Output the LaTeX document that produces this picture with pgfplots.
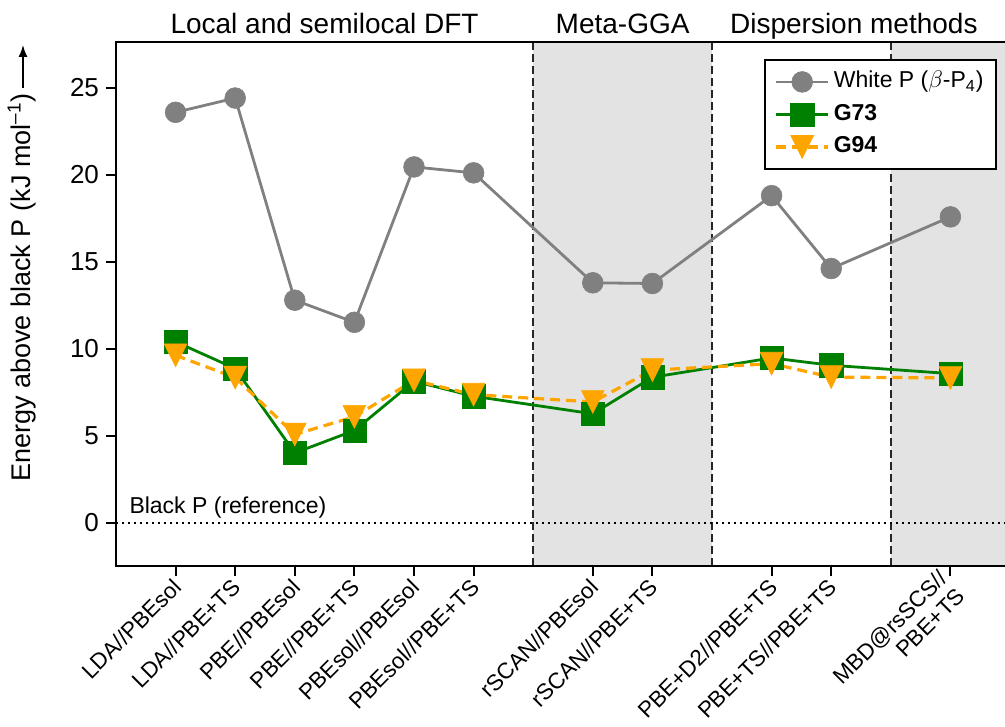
\documentclass[border=0pt]{standalone}
\usepackage{fontspec}
\setmainfont{Liberation Sans}
\usepackage{pgfplots}
\usepackage{pgfplotstable}
\pgfplotsset{compat=1.18}
\usetikzlibrary{arrows.meta}
\definecolor{wgray}{HTML}{808080}
\definecolor{gseven}{HTML}{008000}
\definecolor{gnine}{HTML}{FFA500}
\definecolor{bandgray}{HTML}{E3E3E3}
\pgfdeclareplotmark{tridown}{%
  \pgfpathmoveto{\pgfqpoint{-\pgfplotmarksize}{\pgfplotmarksize}}%
  \pgfpathlineto{\pgfqpoint{\pgfplotmarksize}{\pgfplotmarksize}}%
  \pgfpathlineto{\pgfqpoint{0pt}{-\pgfplotmarksize}}%
  \pgfpathclose
  \pgfusepathqfillstroke}

\pgfplotstableread{
x y
0 23.58
1 24.40
2 12.78
3 11.51
4 20.44
5 20.10
7 13.78
8 13.74
10 18.79
11 14.60
13 17.57
}\whiteP
\pgfplotstableread{
x y
0 10.39
1 8.85
2 4.00
3 5.29
4 8.12
5 7.26
7 6.25
8 8.35
10 9.46
11 9.04
13 8.56
}\gsevenT
\pgfplotstableread{
x y
0 9.61
1 8.33
2 5.06
3 6.08
4 8.17
5 7.35
7 6.93
8 8.76
10 9.13
11 8.36
13 8.31
}\gnineF

\begin{document}
\begin{tikzpicture}
\begin{axis}[
  at={(0,0)}, anchor=south west,
  scale only axis, width=447pt, height=261.8pt,
  xmin=-1, xmax=14, ymin=-2.5, ymax=27.6,
  clip=false, axis on top,
  xtick={0,1,2,3,4,5,7,8,10,11,13},
  xticklabels={LDA//PBEsol, LDA//PBE+TS, PBE//PBEsol, PBE//PBE+TS, PBEsol//PBEsol, PBEsol//PBE+TS, rSCAN//PBEsol, rSCAN//PBE+TS, PBE+D2//PBE+TS, PBE+TS//PBE+TS, {MBD@rsSCS//\\PBE+TS}},
  ytick={0,5,10,15,20,25},
  tick align=outside, tick pos=left,
  major tick length=5pt,
  every tick/.style={black, line width=1pt},
  axis line style={line width=1pt},
  /pgf/number format/assume math mode=true,
  xticklabel style={rotate=45, anchor=east, align=right, font=\fontsize{11.2}{12.5}\selectfont, xshift=1.5pt, yshift=-3pt},
  yticklabel style={font=\fontsize{13}{15}\selectfont},
  legend style={at={(axis cs:13.775,26.65)}, anchor=north east, draw=black, line width=1pt,
    font=\fontsize{11.5}{13}\selectfont, inner xsep=5pt, inner ysep=4.5pt,
    nodes={inner sep=1pt, text height=8.5pt, text depth=2.5pt}, row sep=3.25pt,
    /tikz/every odd column/.append style={column sep=1pt}},
  legend cell align=left,
  legend image code/.code={\draw[mark repeat=2,mark phase=2,#1] plot coordinates {(0pt,0pt)(13pt,0pt)(26pt,0pt)};},
]
\fill[bandgray] (axis cs:6,-2.5) rectangle (axis cs:9,27.6);
\fill[bandgray] (axis cs:12,-2.5) rectangle (axis cs:14,27.6);
\draw[black!85, line width=1pt, dash pattern=on 4pt off 2pt] (axis cs:6,-2.5) -- (axis cs:6,27.6);
\draw[black!85, line width=1pt, dash pattern=on 4pt off 2pt] (axis cs:9,-2.5) -- (axis cs:9,27.6);
\draw[black!85, line width=1pt, dash pattern=on 4pt off 2pt] (axis cs:12,-2.5) -- (axis cs:12,27.6);
\draw[black, line width=1pt, dash pattern=on 1pt off 2pt] (axis cs:-1,0) -- (axis cs:14,0);

\addplot[wgray, line width=1.4pt, mark=*, mark size=5.2pt, mark options={fill=wgray, draw=wgray, line width=0.3pt}] table[x=x,y=y] {\whiteP};
\addlegendentry{White P ($\beta$-P\textsubscript{4})}
\addplot[gseven, line width=1.4pt, mark=square*, mark size=5.8pt, mark options={fill=gseven, draw=gseven, line width=0.3pt}] table[x=x,y=y] {\gsevenT};
\addlegendentry{\textbf{G73}}
\addplot[gnine, line width=1.6pt, dash pattern=on 5pt off 3pt, mark=tridown, mark size=5.7pt, mark options={solid, fill=gnine, draw=gnine, line width=0.3pt}] table[x=x,y=y] {\gnineF};
\addlegendentry{\textbf{G94}}

\node[anchor=base west, font=\fontsize{11.5}{13}\selectfont, inner sep=0pt] at (axis cs:-0.78,0) [yshift=4.5pt] {Black P (reference)};
\node[anchor=base, font=\fontsize{14}{16}\selectfont, inner sep=0pt, yshift=4.5pt] at (axis cs:2.5,27.6) {Local and semilocal DFT};
\node[anchor=base, font=\fontsize{14}{16}\selectfont, inner sep=0pt, yshift=4.5pt] at (axis cs:7.5,27.6) {Meta-GGA};
\node[anchor=base, font=\fontsize{14}{16}\selectfont, inner sep=0pt, yshift=4.5pt] at (axis cs:11.38,27.6) {Dispersion methods};
\end{axis}
\node[rotate=90, anchor=base west, inner sep=0pt, font=\fontsize{13.5}{15}\selectfont] at (-42.5pt,42pt) {Energy above black P (kJ mol\textsuperscript{–1})};
\draw[line width=0.75pt, -{Latex[length=6pt,width=4.5pt]}] (-46.5pt,239pt) -- (-46.5pt,260.5pt);
\pgfresetboundingbox
\path[use as bounding box] (-58pt,-80.5pt) rectangle (444.5pt,283pt);
\end{tikzpicture}
\end{document}
